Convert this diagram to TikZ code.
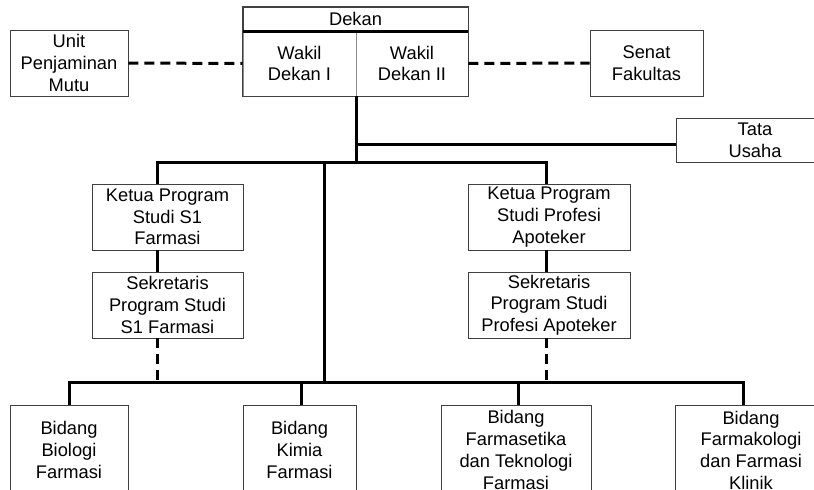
\documentclass[tikz,border=0pt]{standalone}
\usepackage{fontspec}
\setmainfont{Liberation Sans}
\begin{document}
\begin{tikzpicture}[x=1pt,y=-1pt,
  box/.style={draw=black!75, line width=0.9pt, rectangle, inner sep=0pt, align=center,
    font=\fontsize{18.3}{21.7}\selectfont},
  thickln/.style={line width=3pt},
  dashln/.style={line width=3pt, dash pattern=on 10pt off 6pt}]
\useasboundingbox (0,0) rectangle (814,490);
\clip (0,0) rectangle (814,490);
% Dekan block
\node[box, minimum width=225pt, minimum height=24pt] (dekan) at (355.5,19) {Dekan};
\node[box, draw=black!45, minimum width=113pt, minimum height=65pt] (wd1) at (299.5,63.5) {Wakil\\Dekan I};
\node[box, draw=black!45, minimum width=112pt, minimum height=65pt] (wd2) at (412,63.5) {Wakil\\Dekan II};
\draw[black!75, line width=0.9pt] (dekan.north west) -- (dekan.south west) -- (wd1.south west) -- (wd2.south east) -- (dekan.north east) -- cycle;
\draw[thickln] (dekan.south west) -- (dekan.south east);
% side units
\node[box, minimum width=118pt, minimum height=66pt] (upm) at (69,63) {Unit\\Penjaminan\\Mutu};
\node[box, minimum width=113pt, minimum height=66pt] (senat) at (646.5,63) {Senat\\Fakultas};
\node[box, minimum width=158pt, minimum height=44pt] (tu) at (755,140) {Tata\\Usaha};
\draw[dashln] (upm.east) -- (wd1.west);
\draw[dashln] (wd2.east) -- (senat.west);
% programs
\node[box, minimum width=151pt, minimum height=66pt] (k1) at (167.5,217) {Ketua Program\\Studi S1\\Farmasi};
\node[box, minimum width=151pt, minimum height=66pt] (s1) at (167.5,305) {Sekretaris\\Program Studi\\S1 Farmasi};
\node[box, minimum width=162pt, minimum height=66pt] (k2) at (549,217) {Ketua Program\\Studi Profesi\\Apoteker};
\node[box, minimum width=162pt, minimum height=66pt] (s2) at (549,305) {Sekretaris\\Program Studi\\Profesi Apoteker};
% bidang
\node[box, minimum width=118pt, minimum height=90pt] (b1) at (69,450) {Bidang\\Biologi\\Farmasi};
\node[box, minimum width=113pt, minimum height=90pt] (b2) at (299.5,450) {Bidang\\Kimia\\Farmasi};
\node[box, minimum width=150pt, minimum height=90pt] (b3) at (516,450) {Bidang\\Farmasetika\\dan Teknologi\\Farmasi};
\node[box, minimum width=152pt, minimum height=90pt] (b4) at (751,450) {Bidang\\Farmakologi\\dan Farmasi\\Klinik};
% connector coordinates
\coordinate (top) at (356,96);
\coordinate (tuj) at (356,144);
\coordinate (bus) at (356,162);
\coordinate (lb) at (157,162);
\coordinate (rb) at (546,162);
\coordinate (mt) at (324,162);
\coordinate (mb) at (324,382);
\coordinate (bl) at (69,382);
\coordinate (br) at (743,382);
% solid connectors
\draw[thickln] (top) -- (bus);
\draw[thickln] (tuj) -- (tuj -| tu.west);
\draw[thickln] (lb |- k1.north) -- (lb) -- (rb) -- (rb |- k2.north);
\draw[thickln] (lb |- k1.south) -- (lb |- s1.north);
\draw[thickln] (rb |- k2.south) -- (rb |- s2.north);
\draw[thickln] (mt) -- (mb);
\draw[thickln] (bl |- b1.north) -- (bl) -- (br) -- (br |- b4.north);
\draw[thickln] (301,382) -- (301,382 |- b2.north);
\draw[thickln] (518,382) -- (518,382 |- b3.north);
% dashed
\draw[dashln] (lb |- s1.south) -- (157,382);
\draw[dashln] (rb |- s2.south) -- (546,382);
\end{tikzpicture}
\end{document}
